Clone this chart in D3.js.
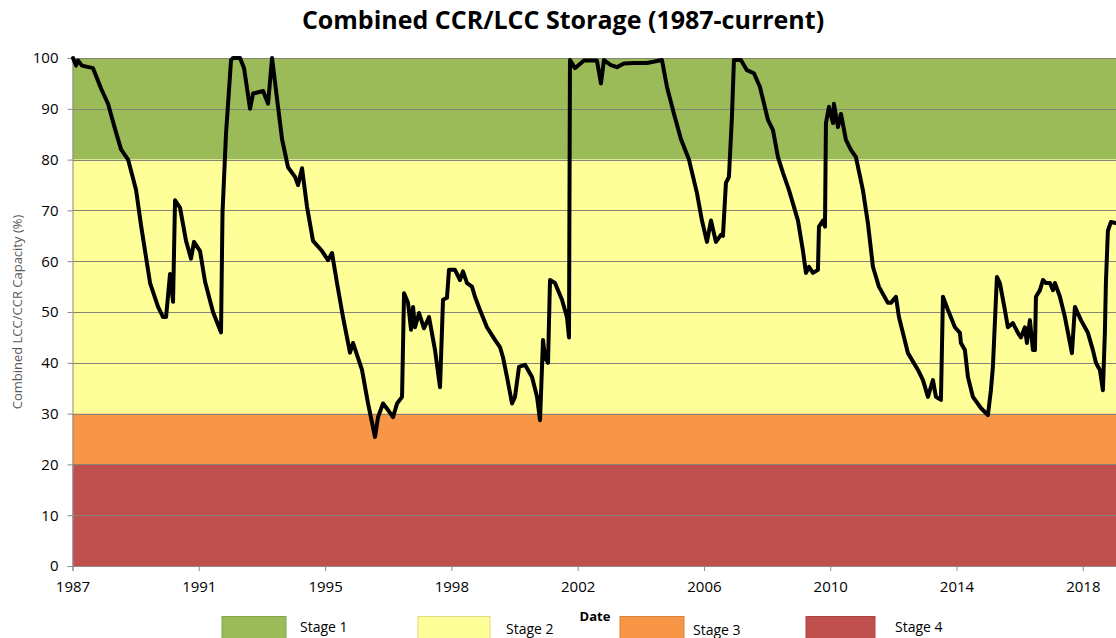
<!DOCTYPE html>
<html>
<head>
<meta charset="utf-8">
<script src="https://cdn.jsdelivr.net/npm/d3@7"></script>
<style>
  body { margin: 0; background: #fff; }
  svg { display: block; }
  text { font-family: "Open Sans", "DejaVu Sans", sans-serif; }
</style>
</head>
<body>
<svg id="chart" width="1116" height="638"></svg>
<script>
// Sample dates (decimal years) and combined storage (% of capacity)
const sampleYears = [
  1987.315, 1987.407, 1987.468, 1987.591, 1987.928, 1988.173, 1988.387, 1988.602, 1988.785, 1989.000,
  1989.245, 1989.398, 1989.674, 1989.919, 1990.072, 1990.164, 1990.286, 1990.378, 1990.439, 1990.593,
  1990.776, 1990.929, 1991.021, 1991.205, 1991.358, 1991.603, 1991.848, 1991.894, 1992.001, 1992.155,
  1992.216, 1992.430, 1992.553, 1992.645, 1992.736, 1992.828, 1993.135, 1993.288, 1993.410, 1993.563,
  1993.717, 1993.900, 1994.115, 1994.207, 1994.329, 1994.482, 1994.666, 1994.942, 1995.125, 1995.248,
  1995.401, 1995.585, 1995.799, 1995.891, 1996.167, 1996.351, 1996.565, 1996.657, 1996.810, 1996.963,
  1997.116, 1997.239, 1997.392, 1997.453, 1997.576, 1997.668, 1997.729, 1997.790, 1997.913, 1998.066,
  1998.219, 1998.403, 1998.556, 1998.648, 1998.770, 1998.831, 1999.015, 1999.168, 1999.260, 1999.383,
  1999.536, 1999.628, 1999.781, 1999.995, 2000.240, 2000.393, 2000.485, 2000.608, 2000.761, 2000.853,
  2000.975, 2001.159, 2001.374, 2001.527, 2001.619, 2001.710, 2001.772, 2001.864, 2001.925, 2002.078,
  2002.292, 2002.445, 2002.507, 2002.537, 2002.690, 2002.966, 2003.364, 2003.487, 2003.579, 2003.793,
  2003.977, 2004.191, 2004.498, 2004.896, 2005.355, 2005.508, 2005.723, 2005.937, 2006.182, 2006.427,
  2006.580, 2006.733, 2006.856, 2007.009, 2007.162, 2007.223, 2007.315, 2007.407, 2007.499, 2007.560,
  2007.775, 2007.958, 2008.173, 2008.357, 2008.602, 2008.755, 2008.908, 2009.061, 2009.245, 2009.521,
  2009.674, 2009.766, 2009.858, 2009.980, 2010.133, 2010.164, 2010.286, 2010.348, 2010.378, 2010.470,
  2010.593, 2010.623, 2010.746, 2010.838, 2010.991, 2011.144, 2011.297, 2011.511, 2011.664, 2011.818,
  2012.001, 2012.277, 2012.369, 2012.522, 2012.614, 2012.890, 2013.196, 2013.349, 2013.502, 2013.655,
  2013.747, 2013.900, 2013.962, 2014.115, 2014.329, 2014.482, 2014.513, 2014.635, 2014.727, 2014.880,
  2015.125, 2015.340, 2015.432, 2015.493, 2015.616, 2015.707, 2015.860, 2015.952, 2016.106, 2016.259,
  2016.351, 2016.473, 2016.534, 2016.626, 2016.718, 2016.780, 2016.810, 2016.933, 2017.025, 2017.117,
  2017.239, 2017.331, 2017.392, 2017.545, 2017.698, 2017.852, 2017.913, 2018.005, 2018.189, 2018.403,
  2018.556, 2018.648, 2018.770, 2018.862, 2018.923, 2018.954, 2019.015, 2019.107, 2019.260
];
const storagePct = [
  100, 98.5, 99.5, 98.5, 98, 94, 91, 86, 82, 80,
  74, 67, 55.7, 51, 49, 49, 57.5, 52, 72, 70.5,
  64, 60.5, 63.8, 62, 56, 50, 46, 69.5, 85, 99.6,
  100, 100, 98, 94, 90, 93, 93.5, 91, 100, 92,
  84, 78.5, 76.6, 75, 78.3, 70.7, 64, 62, 60.2, 61.6,
  55.7, 49, 42, 43.9, 38.6, 32, 25.4, 29.3, 32, 30.7,
  29.3, 32, 33.3, 53.7, 51.8, 46.5, 51, 47, 49.8, 46.8,
  49, 42.5, 35.2, 52.4, 52.8, 58.3, 58.3, 56.3, 58, 55.7,
  55, 53, 50.4, 47, 44.5, 43.1, 41.1, 37.2, 32, 33.3,
  39.2, 39.6, 37.2, 33.3, 28.7, 44.5, 41.1, 40, 56.3, 55.7,
  52.4, 49, 45, 99.6, 98, 99.5, 99.5, 95, 99.6, 98.6,
  98.2, 98.9, 99, 99, 99.6, 94.3, 89, 84, 80, 73.4,
  68, 63.8, 68, 63.8, 65.2, 65, 75.4, 76.6, 88.4, 99.6,
  99.6, 97.6, 97, 94.3, 87.8, 85.8, 80.5, 77.4, 74, 68,
  62, 57.7, 58.9, 57.7, 58.3, 66.8, 68, 66.8, 87.2, 90.4,
  87.2, 91, 86.4, 89, 83.9, 81.9, 80.5, 74, 67.5, 58.9,
  55, 51.8, 51.8, 53, 49, 41.9, 38.6, 36.6, 33.3, 36.6,
  33.3, 32.7, 53, 50.4, 47, 45.9, 43.9, 42.5, 37.2, 33.3,
  31.1, 29.7, 34.6, 39.2, 56.9, 55.7, 50.4, 47, 47.8, 45.9,
  45, 47, 43.9, 48.4, 42.5, 42.5, 53, 54.3, 56.3, 55.7,
  55.7, 54.3, 55.7, 53, 49, 43.9, 41.9, 51, 48.4, 45.9,
  42.5, 40, 38.6, 34.6, 45.9, 55.7, 66, 67.7, 67.5
];

// Drought stages as storage bands (% of capacity)
const stageNames = ["Stage 1", "Stage 2", "Stage 3", "Stage 4"];
const stageLower = [80, 30, 20, 0];
const stageUpper = [100, 80, 30, 20];
const stageColors = ["#9BBB59", "#FFFF99", "#F79646", "#C0504D"];

// Axis ticks
const yTickValues = [0, 10, 20, 30, 40, 50, 60, 70, 80, 90, 100];
const xTickLabels = ["1987", "1991", "1995", "1998", "2002", "2006", "2010", "2014", "2018"];
const axisStart = "1987-04-20";
const tickStepDays = 1413;
const axisSpanDays = 11720;

function fromDecimalYear(y) {
  const yr = Math.floor(y);
  const s = new Date(yr, 0, 1), e = new Date(yr + 1, 0, 1);
  return new Date(+s + (y - yr) * (e - s));
}

const series = sampleYears.map((y, i) => ({ date: fromDecimalYear(y), value: storagePct[i] }));

const svg = d3.select("#chart");
const plot = { left: 72.5, top: 58, bottom: 566, right: 1120 };

const start = d3.timeParse("%Y-%m-%d")(axisStart);
const x = d3.scaleTime()
  .domain([start, d3.timeDay.offset(start, axisSpanDays)])
  .range([plot.left, plot.right]);
const y = d3.scaleLinear().domain([0, 100]).range([plot.bottom, plot.top]);

const xTickDates = xTickLabels.map((_, k) => d3.timeDay.offset(start, k * tickStepDays));

// Stage bands
svg.append("g").selectAll("rect")
  .data(stageNames)
  .join("rect")
  .attr("x", plot.left)
  .attr("width", plot.right - plot.left)
  .attr("y", (d, i) => y(stageUpper[i]))
  .attr("height", (d, i) => y(stageLower[i]) - y(stageUpper[i]))
  .attr("fill", (d, i) => stageColors[i]);

// Horizontal gridlines
svg.append("g").selectAll("line")
  .data(yTickValues.filter(v => v > 0))
  .join("line")
  .attr("x1", plot.left).attr("x2", plot.right)
  .attr("y1", d => Math.round(y(d)) + 0.5).attr("y2", d => Math.round(y(d)) + 0.5)
  .attr("stroke", "#858575").attr("stroke-width", 1);

// Y axis
const yAxis = d3.axisLeft(y).tickValues(yTickValues).tickSize(5).tickPadding(9).tickFormat(d3.format("d"));
const gy = svg.append("g").attr("transform", `translate(${plot.left},0)`).call(yAxis);
gy.select(".domain").attr("stroke", "#8c8c8c");
gy.selectAll(".tick line").attr("stroke", "#8c8c8c");
gy.selectAll(".tick text").attr("fill", "#000").style("font-size", "15px");

// X axis
const xAxis = d3.axisBottom(x).tickValues(xTickDates).tickSize(5).tickPadding(10)
  .tickFormat((d, i) => xTickLabels[i]);
const gx = svg.append("g").attr("transform", `translate(0,${plot.bottom})`).call(xAxis);
gx.select(".domain").attr("stroke", "#8c8c8c");
gx.selectAll(".tick line").attr("stroke", "#8c8c8c");
gx.selectAll(".tick text").attr("fill", "#000").style("font-size", "15px");

// Storage line
const line = d3.line().x(d => x(d.date)).y(d => y(d.value)).curve(d3.curveLinear);
svg.append("path")
  .datum(series)
  .attr("d", line)
  .attr("fill", "none")
  .attr("stroke", "#000")
  .attr("stroke-width", 4)
  .attr("stroke-linejoin", "round")
  .attr("stroke-linecap", "round");

// Title
svg.append("text")
  .attr("x", 563).attr("y", 29)
  .attr("text-anchor", "middle")
  .style("font-size", "25px").style("font-weight", 700)
  .text("Combined CCR/LCC Storage (1987-current)");

// Y axis title
svg.append("text")
  .attr("transform", `translate(22,${(plot.top + plot.bottom) / 2}) rotate(-90)`)
  .attr("text-anchor", "middle")
  .attr("fill", "#595959")
  .style("font-size", "13px")
  .text("Combined LCC/CCR Capacity (%)");

// X axis title
svg.append("text")
  .attr("x", 595).attr("y", 621)
  .attr("text-anchor", "middle")
  .style("font-size", "13px").style("font-weight", 700)
  .text("Date");

// Legend
const legendBoxX = [222, 418, 620, 806];
const legendBoxW = [64, 72, 64, 69];
const legendTextX = [300, 506, 693, 895];
const legendTextY = [632, 633.5, 634.5, 632];
const lg = svg.append("g");
stageNames.forEach((name, i) => {
  lg.append("rect")
    .attr("x", legendBoxX[i]).attr("y", 616.5)
    .attr("width", legendBoxW[i]).attr("height", 30)
    .attr("fill", stageColors[i])
    .attr("stroke", d3.color(stageColors[i]).darker(0.4))
    .attr("stroke-width", 1);
  lg.append("text")
    .attr("x", legendTextX[i]).attr("y", legendTextY[i])
    .style("font-size", "14px")
    .text(name);
});
</script>
</body>
</html>
